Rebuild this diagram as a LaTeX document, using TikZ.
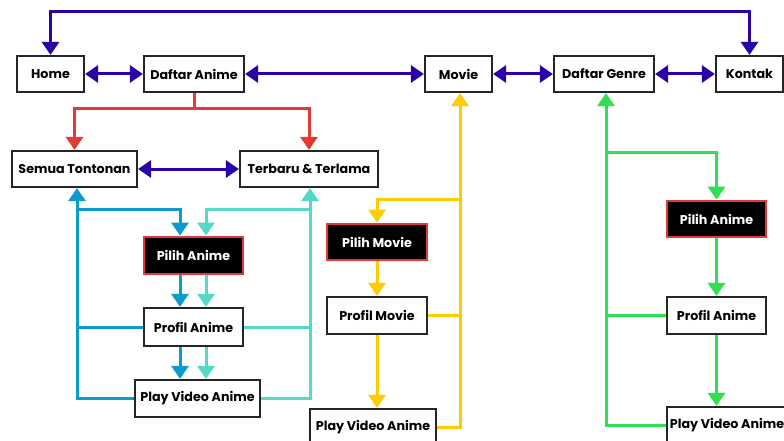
\documentclass[tikz,border=0pt]{standalone}
\usepackage{fontspec}
\setmainfont{Poppins}
\usetikzlibrary{arrows.meta}
\definecolor{pur}{HTML}{2A00A8}
\definecolor{rd}{HTML}{E53935}
\definecolor{bl}{HTML}{0A9BCF}
\definecolor{tq}{HTML}{55D8C6}
\definecolor{yl}{HTML}{FFCC00}
\definecolor{gr}{HTML}{2EE052}
\tikzset{
  box/.style={draw=black!85, line width=2.2pt, fill=white, inner sep=0pt, font=\bfseries\fontsize{12.7}{14}\selectfont},
  pick/.style={draw=rd, line width=2.8pt, fill=black, text=white, inner sep=0pt, font=\bfseries\fontsize{12.7}{14}\selectfont},
  ln/.style={line width=3pt},
  tip/.style={-{Triangle[width=17pt,length=13pt]}},
  dtip/.style={{Triangle[width=17pt,length=13pt]}-{Triangle[width=17pt,length=13pt]}}
}
\begin{document}
\begin{tikzpicture}[x=1pt,y=-1pt]
\useasboundingbox[fill=white] (0,0) rectangle (784,441);
% top row
\node[box, minimum width=67pt, minimum height=36pt] (Home) at (50.5,74) {Home};
\node[box, minimum width=100pt, minimum height=36pt] (DA) at (194,74) {Daftar Anime};
\node[box, minimum width=67pt, minimum height=36pt] (Movie) at (458.5,74) {Movie};
\node[box, minimum width=100pt, minimum height=36pt] (DG) at (604,74) {Daftar Genre};
\node[box, minimum width=67pt, minimum height=36pt] (Kontak) at (749.5,74) {Kontak};
% second row
\node[box, minimum width=125pt, minimum height=36pt] (Semua) at (74.5,169) {Semua Tontonan};
\node[box, minimum width=138pt, minimum height=36pt] (Terbaru) at (309,169) {Terbaru \& Terlama};
% anime column
\node[pick, minimum width=99pt, minimum height=37pt] (PilihA) at (193.5,255.5) {Pilih Anime};
\node[box, minimum width=99pt, minimum height=38pt] (ProfilA) at (193.5,327) {Profil Anime};
\node[box, minimum width=125pt, minimum height=37pt] (PlayA) at (197.5,398.5) {Play Video Anime};
% movie column
\node[pick, minimum width=100pt, minimum height=36pt] (PilihM) at (377,242) {Pilih Movie};
\node[box, minimum width=100pt, minimum height=37pt] (ProfilM) at (377,315.5) {Profil Movie};
\node[box, minimum width=126pt, minimum height=36pt] (PlayM) at (373,427) {Play Video Anime};
% genre column
\node[pick, minimum width=99pt, minimum height=36pt] (PilihG) at (716.5,219) {Pilih Anime};
\node[box, minimum width=99pt, minimum height=37pt] (ProfilG) at (716.5,315.5) {Profil Anime};
\node[box, minimum width=120pt, minimum height=36pt] (PlayG) at (727,425) {Play Video Anime};

% helper coordinates
\coordinate (tp) at (0,12);
\coordinate (rj) at (194,109);
\coordinate (bx) at (77,0);
\coordinate (bj) at (77,209);
\coordinate (bd) at (180,0);
\coordinate (tx) at (310,0);
\coordinate (tj) at (310,209);
\coordinate (td) at (206,0);
\coordinate (yx) at (460,0);
\coordinate (yj) at (460,199);
\coordinate (gx) at (606,0);
\coordinate (gj) at (606,152);

% purple
\draw[ln, pur, dtip] (Home.north) -- (Home.north |- tp) -- (Kontak.north |- tp) -- (Kontak.north);
\draw[ln, pur, dtip] (Home.east) -- (DA.west);
\draw[ln, pur, dtip] (DA.east) -- (Movie.west);
\draw[ln, pur, dtip] (Movie.east) -- (DG.west);
\draw[ln, pur, dtip] (DG.east) -- (Kontak.west);
\draw[ln, pur, dtip] (Semua.east) -- (Terbaru.west);

% red
\draw[ln, rd] (DA.south) -- (rj);
\draw[ln, rd, tip] (rj) -| (Semua.north);
\draw[ln, rd, tip] (rj) -| (Terbaru.north);

% blue
\draw[ln, bl, tip] (PlayA.west) -| (Semua.south -| bx);
\draw[ln, bl] (ProfilA.west) -- (ProfilA.west -| bx);
\draw[ln, bl, tip] (bj) -| (PilihA.north -| bd);
\draw[ln, bl, tip] (PilihA.south -| bd) -- (ProfilA.north -| bd);
\draw[ln, bl, tip] (ProfilA.south -| bd) -- (PlayA.north -| bd);

% turquoise
\draw[ln, tq, tip] (PlayA.east) -| (Terbaru.south -| tx);
\draw[ln, tq] (ProfilA.east) -- (ProfilA.east -| tx);
\draw[ln, tq, tip] (tj) -| (PilihA.north -| td);
\draw[ln, tq, tip] (PilihA.south -| td) -- (ProfilA.north -| td);
\draw[ln, tq, tip] (ProfilA.south -| td) -- (PlayA.north -| td);

% yellow
\draw[ln, yl, tip] (PlayM.east) -| (Movie.south -| yx);
\draw[ln, yl] (ProfilM.east) -- (ProfilM.east -| yx);
\draw[ln, yl, tip] (yj) -| (PilihM.north);
\draw[ln, yl, tip] (PilihM.south) -- (ProfilM.north);
\draw[ln, yl, tip] (ProfilM.south) -- (ProfilM.south |- PlayM.north);

% green
\draw[ln, gr, tip] (PlayG.west) -| (DG.south -| gx);
\draw[ln, gr] (ProfilG.west) -- (ProfilG.west -| gx);
\draw[ln, gr, tip] (gj) -| (PilihG.north);
\draw[ln, gr, tip] (PilihG.south) -- (ProfilG.north);
\draw[ln, gr, tip] (ProfilG.south) -- (ProfilG.south |- PlayG.north);
\end{tikzpicture}
\end{document}
